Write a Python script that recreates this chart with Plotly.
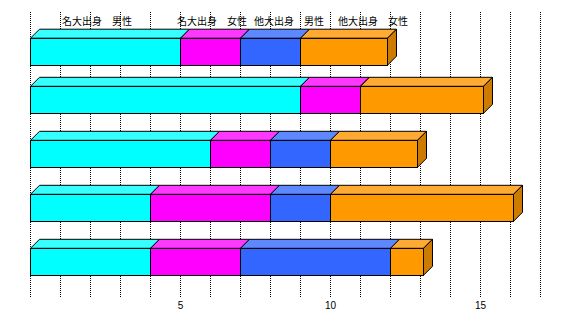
import plotly.graph_objects as go

# ---- data ----
series_names = ["名大出身　男性", "名大出身　女性", "他大出身　男性", "他大出身　女性"]
rows = ["1", "2", "3", "4", "5"]
meidai_male = [5, 9, 6, 4, 4]
meidai_female = [2, 2, 2, 4, 3]
tadai_male = [2, 0, 2, 2, 5]
tadai_female = [2.9, 4.1, 2.9, 6.1, 1.1]
x_tick_vals = list(range(0, 18))
x_tick_text = ["5" if v == 5 else "10" if v == 10 else "15" if v == 15 else "" for v in x_tick_vals]

series_values = [meidai_male, meidai_female, tadai_male, tadai_female]

# ---- style ----
front_colors = ["#00FFFF", "#FF00FF", "#3366FF", "#FF9900"]
top_colors = ["#38FFFF", "#FF38FF", "#5E88FF", "#FFAA33"]
side_colors = ["#00CCCC", "#CC00CC", "#2850CC", "#CC7A00"]

W, H = 573, 332
ML, MR, MT, MB = 29, 31, 12, 34
plot_w = W - ML - MR
plot_h = H - MT - MB
x_range = [-0.05, 17.05]
row_pos = [0.109, 1, 2, 3, 4]      # vertical placement of rows (slot units)
slot_px = 54.0
first_center_px = 45.8
y_top = (MT - first_center_px) / slot_px
y_bot = (H - MB - first_center_px) / slot_px
half = 13.5 / slot_px
dx = 9 / (plot_w / (x_range[1] - x_range[0]))
dy = 9 / slot_px

fig = go.Figure()

# front faces
for j, name in enumerate(series_names):
    fig.add_trace(go.Bar(
        y=row_pos, x=series_values[j], orientation="h", name=name,
        width=2 * half,
        marker=dict(color=front_colors[j], line=dict(color="black", width=1)),
        showlegend=False, hoverinfo="skip",
    ))

# top faces and side faces
n = len(rows)
cums = []
for i in range(n):
    c = [0]
    for j in range(len(series_values)):
        c.append(c[-1] + series_values[j][i])
    cums.append(c)

for j in range(len(series_values)):
    xs, ys = [], []
    for i in range(n):
        a, b = cums[i][j], cums[i][j + 1]
        top = row_pos[i] - half
        xs += [a, a + dx, b + dx, b, a, None]
        ys += [top, top - dy, top - dy, top, top, None]
    fig.add_trace(go.Scatter(x=xs, y=ys, mode="lines", fill="toself",
                             fillcolor=top_colors[j],
                             line=dict(color="black", width=1),
                             showlegend=False, hoverinfo="skip"))

for j in range(len(series_values)):
    xs, ys = [], []
    for i in range(n):
        # last non-zero segment of the row gets the side face
        last = max(k for k in range(len(series_values)) if series_values[k][i] > 0)
        if last != j:
            continue
        b = cums[i][-1]
        top = row_pos[i] - half
        bot = row_pos[i] + half
        xs += [b, b + dx, b + dx, b, b, None]
        ys += [top, top - dy, bot - dy, bot, top, None]
    if xs:
        fig.add_trace(go.Scatter(x=xs, y=ys, mode="lines", fill="toself",
                                 fillcolor=side_colors[j],
                                 line=dict(color="black", width=1),
                                 showlegend=False, hoverinfo="skip"))

# legend-like labels at top
legend_px = [59.7, 174.5, 252.3, 336.3]
legend_py = 20.5
for name, px in zip(series_names, legend_px):
    fig.add_annotation(
        xref="paper", yref="paper",
        x=(px - ML) / plot_w, y=(H - MB - legend_py) / plot_h,
        xanchor="left", yanchor="middle", showarrow=False,
        text=name, font=dict(family="Noto Sans CJK JP", size=10, color="black"),
    )

fig.update_layout(
    width=W, height=H,
    margin=dict(l=ML, r=MR, t=MT, b=MB),
    paper_bgcolor="white", plot_bgcolor="white",
    barmode="stack",
    showlegend=False,
    xaxis=dict(range=x_range, tickvals=x_tick_vals, ticktext=x_tick_text,
               showgrid=True, gridcolor="black", gridwidth=1, griddash="1px,1px",
               zeroline=False, showline=False, ticks="",
               tickfont=dict(family="Liberation Sans", size=10, color="black")),
    yaxis=dict(range=[y_bot, y_top], showgrid=False, zeroline=False,
               showticklabels=False, showline=False, ticks=""),
)

fig.write_html("out.html", config={"displayModeBar": False})
